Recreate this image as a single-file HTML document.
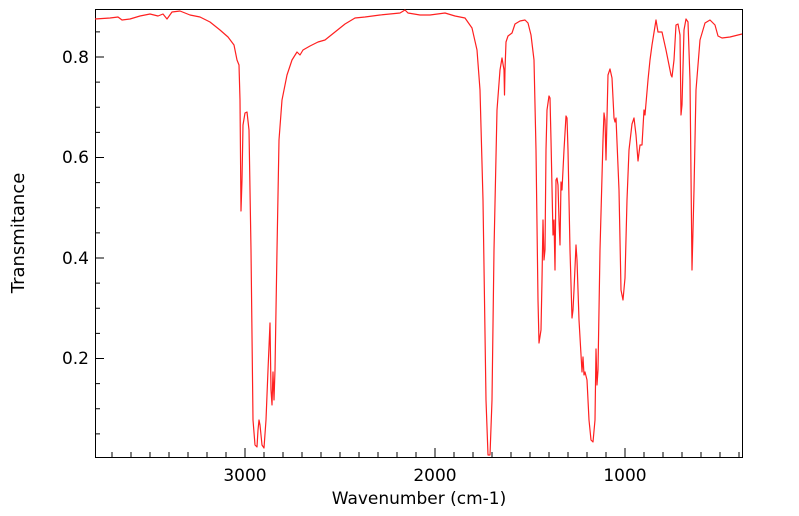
<!DOCTYPE html>
<html><head><meta charset="utf-8"><style>
html,body{margin:0;padding:0;background:#fff}
svg{display:block;font-family:"DejaVu Sans","Liberation Sans",sans-serif}
</style></head><body>
<svg width="799" height="516" viewBox="0 0 799 516" xmlns="http://www.w3.org/2000/svg">
<rect width="799" height="516" fill="#fff"/>
<g stroke="#000" stroke-width="1">
<rect x="95.5" y="9.5" width="647" height="448" fill="none"/>
</g>
<g id="xt" stroke="#000"></g>
<g id="yt" stroke="#000"></g>
<g font-size="17" fill="#000" text-anchor="middle">
<text x="245" y="481">3000</text>
<text x="435" y="481">2000</text>
<text x="625" y="481">1000</text>
<text x="419" y="504">Wavenumber (cm-1)</text>
</g>
<g font-size="17" fill="#000" text-anchor="end">
<text x="89" y="63">0.8</text>
<text x="89" y="163">0.6</text>
<text x="89" y="264">0.4</text>
<text x="89" y="364">0.2</text>
</g>
<text transform="translate(24,233) rotate(-90)" font-size="18" text-anchor="middle">Transmitance</text>
<polyline fill="none" stroke="#ff2020" stroke-width="1.2" stroke-linejoin="round" points="95,19 110,18 118,17 122,20 130,19 140,16 150,14 158,16 163,14 167,19 172,12 180,11 190,15 200,17 210,22 220,30 228,37 234,45 237,60 239,65 240,100 241,211 242,180 243,125 245,113 247,112 249,130 251,250 253,420 255,445 257,447 258,430 259,420 260,425 262,445 264,448 266,420 268,370 270,323 271,390 272,405 273,372 274,400 275,370 277,250 279,140 282,100 287,75 292,60 297,52 300,55 303,50 310,46 318,42 325,40 335,32 345,24 355,18 365,17 380,15 400,13 405,10 408,13 420,15 430,15 445,13 455,16 465,18 472,28 477,50 480,90 483,200 486,400 488,455 490,455 492,400 494,250 497,110 500,70 502,58 504,70 504.5,95 505,70 506,42 508,36 512,33 515,24 520,21 525,20 528,23 531,35 534,60 536,150 538,300 539,343 541,330 542,280 543,220 544,260 545,250 546,150 547,110 549,96 550,98 551,140 553,235 554,220 555,270 556,180 557,178 558,185 559,220 560,245 561,182 562,190 564,150 566,116 567,118 568,150 570,250 572,318 573,310 574,290 576,245 577,260 579,320 582,372 583,357 584,375 585,372 587,380 589,420 591,440 593,442 595,420 596,349 597,385 598,370 600,250 603,140 604,113 605,120 606,160 608,75 610,69 612,78 614,118 615,122 616,118 619,190 621,290 623,300 625,278 627,200 629,150 632,124 634,118 636,135 638,161 640,145 642,145 644,110 645,115 648,80 650,60 652,45 656,20 658,32 662,32 666,50 671,75 672,77 674,60 676,25 678,24 680,35 681,115 682,105 684,30 686,19 688,22 690,80 692,270 694,190 696,90 700,40 705,23 710,20 715,25 718,36 722,38 730,37 742,34"/>
<script>
var ns="http://www.w3.org/2000/svg",xt=document.getElementById("xt"),yt=document.getElementById("yt");
for(var w=3700;w>=400;w-=100){var x=245+(3000-w)*0.19;var L=(w%1000==0)?9:5;var l=document.createElementNS(ns,"line");l.setAttribute("x1",x);l.setAttribute("x2",x);l.setAttribute("y1",457);l.setAttribute("y2",457-L);xt.appendChild(l);}
for(var i=1;i<=17;i++){var t=i*0.05;var y=57+(0.8-t)*502.5;if(y<10)continue;var L=(i%4==0)?9:5;var l=document.createElementNS(ns,"line");l.setAttribute("x1",95);l.setAttribute("x2",95+L);l.setAttribute("y1",y);l.setAttribute("y2",y);yt.appendChild(l);}
</script>
</svg>
</body></html>
